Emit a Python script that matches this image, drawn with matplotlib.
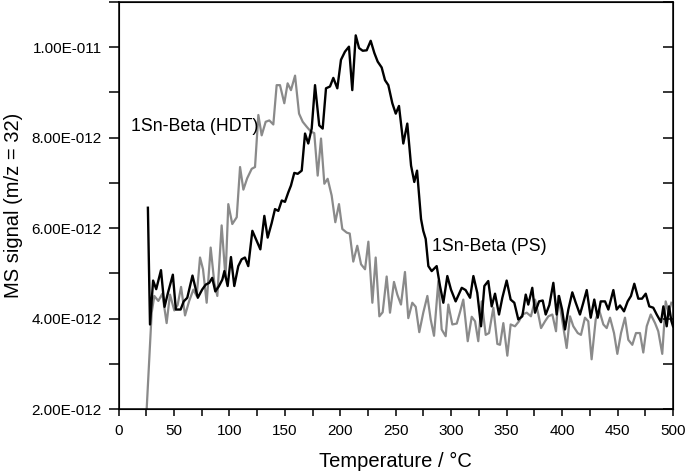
import matplotlib
matplotlib.use("Agg")
import math
import matplotlib.pyplot as plt
from matplotlib.ticker import MultipleLocator, FuncFormatter

plt.rcParams['font.family'] = ['Liberation Sans', 'DejaVu Sans']

# 1Sn-Beta (PS) - black curve
ps_temperature = [
    26.5, 28.4, 31.2, 34, 38.3, 41.5, 44.6, 49, 51.7, 56,
    58.8, 62, 66.7, 71.5, 75.4, 78.6, 81.8, 84.5, 87.3, 90.4,
    93.6, 95.5, 98.4, 101.4, 104.4, 108, 111, 114, 117, 120.7,
    124.6, 127.9, 131.5, 134.5, 138.1, 141.1, 144.1, 147.2, 150.1, 153.1,
    155.5, 158.5, 161.6, 165.2, 168.2, 171.1, 174.2, 177.2, 181, 184.1,
    187.1, 190.7, 193.7, 197.3, 200.6, 204.2, 207.8, 210.8, 213.9, 216.9,
    220.2, 223.8, 227.4, 230.7, 233.7, 237.3, 240.3, 243.3, 246.9, 250,
    252.9, 256.8, 260.4, 263.8, 266.7, 269.2, 272.8, 274.8, 277, 279.4,
    282.4, 286.9, 289.9, 292.9, 296.5, 299.8, 304, 309.5, 313, 317,
    320, 323.5, 326.9, 329.9, 333.4, 336.5, 339.5, 343.1, 346.1, 350,
    353.6, 356.9, 360.5, 364.1, 367.2, 369.5, 373.1, 375.6, 379.2, 382.5,
    385.2, 388.5, 392.1, 395.1, 397.2, 400, 402.6, 405.6, 409.2, 412.3,
    416.1, 419.1, 422.2, 425.8, 429, 432.1, 434.8, 438.7, 441.7, 446.2,
    449.2, 452.2, 455.8, 459.1, 462.1, 465.1, 468.7, 472, 475.4, 478.6,
    482.2, 485.3, 489.2, 491.3, 494.3, 496.4, 498.5, 500,
]
ps_signal_e12 = [
    6.45, 3.87, 4.84, 4.65, 5.07, 4.26, 4.57, 4.97, 4.2, 4.2,
    4.38, 4.46, 4.95, 4.46, 4.64, 4.75, 4.79, 4.9, 4.6, 4.71,
    4.86, 5.05, 4.72, 5.36, 4.72, 5.16, 5.31, 5.35, 5.16, 5.94,
    5.72, 5.53, 6.27, 5.79, 6.11, 6.42, 6.38, 6.61, 6.58, 6.79,
    6.94, 7.22, 7.2, 7.27, 8.09, 7.87, 8.2, 9.16, 8.27, 8.2,
    9.09, 9.13, 9.32, 9.09, 9.72, 9.9, 10.01, 9.05, 10.26, 9.98,
    9.92, 9.93, 10.14, 9.87, 9.68, 9.55, 9.27, 9.16, 8.76, 8.53,
    8.7, 7.87, 8.31, 7.38, 7.02, 7.27, 6.2, 5.94, 5.76, 5.16,
    5.05, 5.16, 4.72, 4.35, 4.94, 4.64, 4.38, 4.68, 4.63, 4.46,
    4.94, 4.57, 3.83, 4.72, 4.83, 4.27, 4.55, 4.09, 4.46, 4.84,
    4.42, 4.35, 3.98, 4.05, 4.53, 4.31, 4.68, 4.13, 4.38, 4.4,
    4.09, 4.3, 4.79, 4.09, 4.5, 4.2, 3.76, 4.2, 4.58, 4.35,
    4.09, 4.35, 4.63, 4.02, 4.42, 4.02, 4.38, 4.38, 4.2, 4.63,
    4.2, 4.29, 4.16, 4.38, 4.5, 4.77, 4.44, 4.44, 4.55, 4.27,
    4.24, 4.09, 3.92, 4.27, 3.83, 4.27, 3.95, 3.83,
]

# 1Sn-Beta (HDT) - grey curve
hdt_temperature = [
    25.4, 29.9, 32.3, 35.9, 39.5, 43.4, 46.4, 50.3, 53.3, 56.4,
    60, 63.6, 67.5, 70.5, 73.5, 76.2, 79.5, 83.1, 86.4, 89.1,
    93, 96.5, 99, 102.6, 106.6, 109.6, 112.6, 116, 120.1, 123.1,
    126.1, 129.1, 132.7, 136, 139.6, 142.6, 145.6, 149.5, 152.5, 155.5,
    159.2, 162.8, 166.1, 169.7, 173.6, 176.5, 179.6, 182.6, 185.6, 188.6,
    192.2, 195.5, 198.8, 201.8, 205.8, 208.5, 211.7, 215.3, 218.7, 222.3,
    225.3, 228.9, 231.9, 235.2, 238.2, 241.8, 244.8, 248.4, 251.4, 254.7,
    258.3, 261.3, 264.9, 268, 271.2, 274.8, 278.5, 281.5, 284.5, 288.4,
    291.4, 295, 297.4, 301, 305, 308, 310.9, 314.9, 318.5, 321.5,
    324.4, 327.5, 331.1, 334.1, 338, 341.6, 344, 347, 350.6, 353.6,
    357.5, 361.1, 364.1, 368.1, 371.9, 375.6, 378.5, 381, 384.6, 387.6,
    391.2, 394.5, 396.6, 400.5, 404.1, 407.1, 410.1, 414.1, 417, 420.6,
    423.6, 426.6, 430.3, 433.3, 437.2, 440.2, 443.2, 446.8, 449.8, 453.1,
    456.7, 459.7, 463.3, 466.6, 470.2, 473.2, 476.3, 479.9, 483.8, 486.7,
    490.3, 493.4, 496, 498.5,
]
hdt_signal_e12 = [
    2.0, 4.13, 4.5, 4.39, 4.55, 3.9, 4.53, 4.18, 4.3, 4.7,
    4.07, 4.38, 4.64, 4.5, 5.35, 5.09, 4.35, 5.57, 4.79, 4.5,
    6.06, 4.9, 6.53, 6.09, 6.24, 7.35, 6.85, 7.1, 7.31, 7.35,
    8.5, 8.05, 8.35, 8.38, 8.29, 9.16, 9.16, 8.76, 9.2, 9.05,
    9.37, 8.53, 8.35, 8.24, 8.13, 8.1, 7.16, 7.98, 6.98, 7.09,
    6.72, 6.13, 6.53, 5.98, 5.9, 5.88, 5.26, 5.61, 5.2, 5.09,
    5.7, 4.35, 5.35, 4.05, 4.14, 4.93, 4.13, 4.81, 4.53, 4.31,
    5.03, 4.01, 4.35, 4.26, 3.7, 4.13, 4.5, 3.98, 3.62, 4.83,
    3.76, 3.61, 4.31, 3.87, 3.89, 4.15, 4.42, 3.5, 4.04, 3.94,
    3.5, 4.38, 3.64, 3.68, 4.24, 3.44, 3.42, 3.9, 3.18, 3.87,
    3.83, 3.94, 4.09, 4.13, 4.05, 4.42, 4.1, 3.79, 3.94, 4.05,
    4.09, 3.72, 4.5, 3.9, 3.35, 4.05, 3.83, 3.68, 3.64, 4.02,
    3.94, 3.1, 3.98, 4.2, 3.87, 3.79, 4.02, 3.68, 3.22, 3.68,
    4.02, 3.53, 3.42, 3.68, 3.68, 3.25, 3.83, 4.09, 3.9, 3.72,
    3.22, 4.38, 4.13, 4.35,
]

ps_signal = [v * 1e-12 for v in ps_signal_e12]
hdt_signal = [v * 1e-12 for v in hdt_signal_e12]

x_ticks = [0, 50, 100, 150, 200, 250, 300, 350, 400, 450, 500]
y_ticks = [2e-12, 4e-12, 6e-12, 8e-12, 1e-11]

fig = plt.figure(figsize=(6.85, 4.74), dpi=100)
ax = fig.add_axes([0.173, 0.137, 0.8095, 0.859])

ax.plot(hdt_temperature, hdt_signal, color='#8a8a8a', lw=1.6, zorder=2)
ax.plot(ps_temperature, ps_signal, color='#000000', lw=1.7, zorder=3)

ax.set_xlim(0, 500)
ax.set_ylim(2e-12, 1.1e-11)
ax.set_xticks(x_ticks)
ax.set_yticks(y_ticks)
ax.xaxis.set_minor_locator(MultipleLocator(25))
ax.yaxis.set_minor_locator(MultipleLocator(1e-12))


def sci_fmt(v, pos):
    if v == 0:
        return "0"
    e = int(math.floor(math.log10(abs(v)) + 1e-9))
    m = v / 10 ** e
    sign = '-' if e < 0 else '+'
    return f"{m:.2f}E{sign}{abs(e):03d}"


ax.yaxis.set_major_formatter(FuncFormatter(sci_fmt))

for s in ax.spines.values():
    s.set_linewidth(1.1)

ax.tick_params(axis='both', which='both', width=1.1, labelsize=11, colors='black')
ax.tick_params(axis='x', which='both', direction='out', length=5, top=False, pad=6)
ax.tick_params(axis='y', which='both', direction='out', length=7, pad=5)

ax2 = ax.twinx()
ax2.set_ylim(ax.get_ylim())
ax2.set_yticks(y_ticks)
ax2.yaxis.set_minor_locator(MultipleLocator(1e-12))
ax2.tick_params(axis='y', which='both', direction='in', length=7, width=1.1, labelright=False)

ax.set_xlabel('Temperature / °C', fontsize=14.5, labelpad=10)
ax.set_ylabel('MS signal (m/z = 32)', fontsize=14.5, labelpad=6)

ax.text(11.3, 8.25e-12, '1Sn-Beta (HDT)', fontsize=12.8, va='center', ha='left')
ax.text(283, 5.6e-12, '1Sn-Beta (PS)', fontsize=12.8, va='center', ha='left')

fig.savefig('out.png', dpi=100)
